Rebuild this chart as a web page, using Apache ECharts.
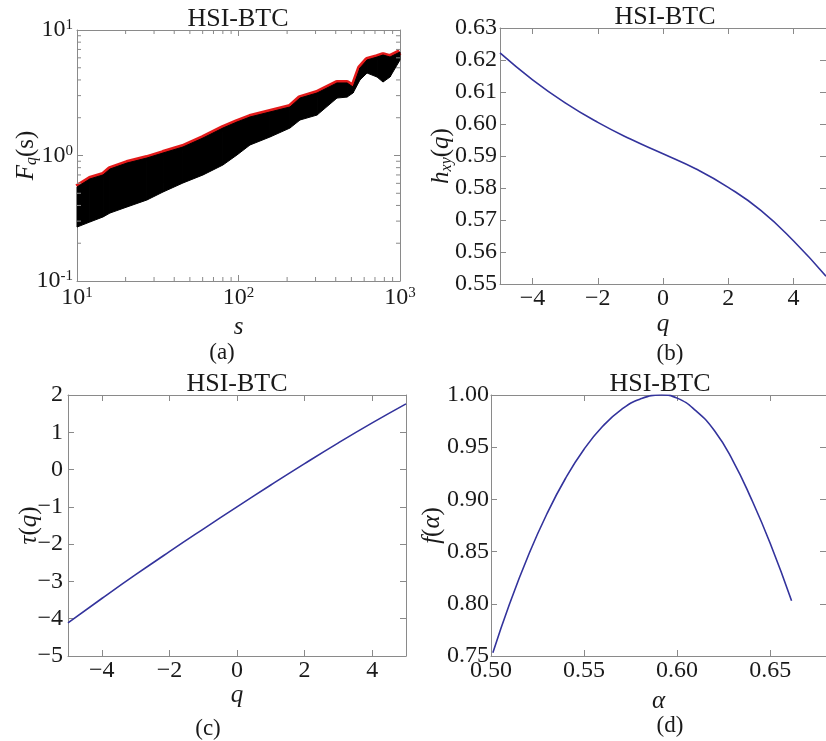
<!DOCTYPE html>
<html>
<head>
<meta charset="utf-8">
<style>
  html, body { margin: 0; padding: 0; background: #fff; }
  #main { width: 826px; height: 741px; }
</style>
<script src="https://cdn.jsdelivr.net/npm/echarts@6.0.0/dist/echarts.min.js"></script>
</head>
<body>
<div id="main"></div>
<script>
// (a) F_q(s) band: upper (red) edge and lower edge
var aScale = [10, 12.0, 14.5, 16.0, 20.4, 27.1, 34.1, 45.3, 60.3, 80.1, 97.9, 117.8, 156.6, 208.3, 240.3, 306.4, 407.4, 469.9, 512, 565, 625, 721, 785, 867, 1000];
var aUpper = [0.561, 0.650, 0.700, 0.780, 0.871, 0.955, 1.047, 1.169, 1.379, 1.655, 1.849, 2.027, 2.222, 2.435, 2.871, 3.148, 3.784, 3.784, 3.516, 4.98, 5.77, 6.09, 6.32, 6.09, 6.68];
var aLower = [0.269, 0.295, 0.324, 0.348, 0.389, 0.442, 0.512, 0.604, 0.700, 0.840, 1.01, 1.213, 1.404, 1.655, 1.918, 2.10, 2.87, 2.92, 3.15, 4.00, 4.54, 4.22, 3.85, 4.22, 5.77];
var aMinorX = [20, 30, 40, 50, 60, 70, 80, 90, 200, 300, 400, 500, 600, 700, 800, 900];
var aMinorY = [0.2, 0.3, 0.4, 0.5, 0.6, 0.7, 0.8, 0.9, 2, 3, 4, 5, 6, 7, 8, 9];

// (b) h_xy(q) and (c) tau(q)
var qValues = [-5, -4, -3, -2, -1, 0, 1, 2, 3, 4, 5];
var hxy = [0.6222, 0.6138, 0.6066, 0.6005, 0.5953, 0.5907, 0.5860, 0.5802, 0.5730, 0.5635, 0.5524];
var tau = [-4.11, -3.458, -2.82, -2.201, -1.596, -1.0, -0.414, 0.160, 0.717, 1.251, 1.762];
var qTicks = [-4, -2, 0, 2, 4];

// (d) f(alpha)
var alpha = [0.501, 0.51, 0.52, 0.53, 0.54, 0.55, 0.56, 0.57, 0.58, 0.5916, 0.60, 0.61, 0.62, 0.63, 0.64, 0.65, 0.6615];
var fAlpha = [0.753, 0.800, 0.846, 0.886, 0.920, 0.948, 0.970, 0.986, 0.996, 1.000, 0.997, 0.985, 0.966, 0.937, 0.900, 0.858, 0.803];
var alphaTicks = [0.50, 0.55, 0.60, 0.65];

var serif = '"Liberation Serif", "Times New Roman", serif';
var frame = '#8a8a8a';
var ink = '#1a1a1a';
var blue = '#33339c';

function minus(v) { return String(v).replace('-', '\u2212'); }

var rich = {
  m: { fontFamily: serif, fontSize: 25, color: ink, lineHeight: 26, verticalAlign: 'top' },
  i: { fontFamily: serif, fontSize: 25, fontStyle: 'italic', color: ink, lineHeight: 26, verticalAlign: 'top' },
  sub: { fontFamily: serif, fontSize: 16, fontStyle: 'italic', color: ink, lineHeight: 16, verticalAlign: 'bottom', padding: [14, 0, 0, 0] }
};
var supRich = {
  b: { fontFamily: serif, fontSize: 24, color: ink, lineHeight: 24, verticalAlign: 'bottom' },
  e: { fontFamily: serif, fontSize: 15, color: ink, lineHeight: 15, verticalAlign: 'top', padding: [0, 0, 14, 0] }
};

function baseAxis(extra) {
  var ax = {
    axisLine: { show: true, onZero: false, lineStyle: { color: frame, width: 1 } },
    axisTick: { show: true, inside: true, length: 6, lineStyle: { color: frame } },
    splitLine: { show: false },
    axisLabel: { fontFamily: serif, fontSize: 24, color: ink },
    nameTextStyle: { fontFamily: serif, fontSize: 25, color: ink, rich: rich },
    nameLocation: 'middle',
    nameMoveOverlap: false
  };
  for (var k in extra) ax[k] = extra[k];
  return ax;
}
function mirror(ax, pos) {
  var m = JSON.parse(JSON.stringify(ax));
  m.position = pos;
  m.axisLabel = { show: false };
  m.name = '';
  return m;
}

var grids = [
  { left: 77, top: 30, width: 323, height: 251 },
  { left: 500, top: 28, width: 330, height: 256 },
  { left: 68, top: 395, width: 338, height: 261 },
  { left: 491, top: 395, width: 338, height: 261 }
];

function powLabel(v) { return '{b|10}{e|' + Math.round(Math.log10(v)) + '}'; }

var xa = baseAxis({ type: 'log', logBase: 10, min: 10, max: 1000, gridIndex: 0, name: '{i|s}', nameGap: 34,
  axisLabel: { fontFamily: serif, fontSize: 24, color: ink, margin: 5, rich: supRich, formatter: powLabel } });
var ya = baseAxis({ type: 'log', logBase: 10, min: 0.1, max: 10, gridIndex: 0, name: '{i|F}{sub|q}{m|(s)}', nameGap: 37,
  axisLabel: { fontFamily: serif, fontSize: 24, color: ink, margin: 4, rich: supRich, formatter: powLabel } });

var xb = baseAxis({ type: 'value', min: -5, max: 5, gridIndex: 1, name: '{i|q}', nameGap: 28,
  axisTick: { show: true, inside: true, length: 6, lineStyle: { color: frame }, customValues: qTicks },
  axisLabel: { fontFamily: serif, fontSize: 24, color: ink, margin: 3, customValues: qTicks, formatter: minus } });
var yb = baseAxis({ type: 'value', min: 0.55, max: 0.63, interval: 0.01, gridIndex: 1, name: '{i|h}{sub|xy}{m|(}{i|q}{m|)}', nameGap: 45,
  axisLabel: { fontFamily: serif, fontSize: 24, color: ink, margin: 3, formatter: function (v) { return v.toFixed(2); } } });

var xc = baseAxis({ type: 'value', min: -5, max: 5, gridIndex: 2, name: '{i|q}', nameGap: 27,
  axisTick: { show: true, inside: true, length: 6, lineStyle: { color: frame }, customValues: qTicks },
  axisLabel: { fontFamily: serif, fontSize: 24, color: ink, margin: 3, customValues: qTicks, formatter: minus } });
var yc = baseAxis({ type: 'value', min: -5, max: 2, interval: 1, gridIndex: 2, name: '{i|\u03c4}{m|(}{i|q}{m|)}', nameGap: 25,
  axisLabel: { fontFamily: serif, fontSize: 24, color: ink, margin: 5, formatter: minus } });

var xd = baseAxis({ type: 'value', min: 0.5, max: 0.68, gridIndex: 3, name: '{i|\u03b1}', nameGap: 33,
  axisTick: { show: true, inside: true, length: 6, lineStyle: { color: frame }, customValues: alphaTicks },
  axisLabel: { fontFamily: serif, fontSize: 24, color: ink, margin: 3, customValues: alphaTicks, formatter: function (v) { return v.toFixed(2); } } });
var yd = baseAxis({ type: 'value', min: 0.75, max: 1.0, interval: 0.05, gridIndex: 3, name: '{i|f}{m|(}{i|\u03b1}{m|)}', nameGap: 45,
  axisLabel: { fontFamily: serif, fontSize: 24, color: ink, margin: 2, formatter: function (v) { return v.toFixed(2); } } });

var xAll = [], yAll = [];
[xa, xb, xc, xd].forEach(function (ax) { xAll.push(ax); xAll.push(mirror(ax, 'top')); });
[ya, yb, yc, yd].forEach(function (ax) { ax.nameRotate = 90; yAll.push(ax); yAll.push(mirror(ax, 'right')); });

function tickLine(x1, y1, x2, y2) {
  return { type: 'line', shape: { x1: x1, y1: y1, x2: x2, y2: y2 }, style: { stroke: frame, lineWidth: 1 } };
}

var series = [
  {
    type: 'line', xAxisIndex: 0, yAxisIndex: 0, z: 2,
    data: aScale.map(function (s, i) { return [s, aUpper[i]]; }),
    showSymbol: false, lineStyle: { color: '#e31a1a', width: 6 }
  },
  {
    type: 'custom', xAxisIndex: 0, yAxisIndex: 0, z: 3,
    data: aScale.map(function (s, i) { return [s, aUpper[i], aLower[i]]; }),
    renderItem: function (params, api) {
      var i = params.dataIndex;
      if (i >= aScale.length - 1) return null;
      var p1 = api.coord([aScale[i], aUpper[i]]);
      var p2 = api.coord([aScale[i + 1], aUpper[i + 1]]);
      var p3 = api.coord([aScale[i + 1], aLower[i + 1]]);
      var p4 = api.coord([aScale[i], aLower[i]]);
      return { type: 'polygon', shape: { points: [p1, p2, p3, p4] },
        style: { fill: '#000', stroke: '#000', lineWidth: 1 } };
    }
  },
  {
    type: 'custom', xAxisIndex: 0, yAxisIndex: 0, z: 4,
    data: aMinorX.map(function (v) { return [v, 1]; }),
    renderItem: function (params, api) {
      var b = api.coord([api.value(0), 0.1]);
      var t = api.coord([api.value(0), 10]);
      return { type: 'group', children: [tickLine(b[0], b[1], b[0], b[1] - 4), tickLine(t[0], t[1], t[0], t[1] + 4)] };
    }
  },
  {
    type: 'custom', xAxisIndex: 0, yAxisIndex: 0, z: 4,
    data: aMinorY.map(function (v) { return [100, v]; }),
    renderItem: function (params, api) {
      var l = api.coord([10, api.value(1)]);
      var r = api.coord([1000, api.value(1)]);
      return { type: 'group', children: [tickLine(l[0], l[1], l[0] + 4, l[1]), tickLine(r[0], r[1], r[0] - 4, r[1])] };
    }
  },
  {
    type: 'line', xAxisIndex: 2, yAxisIndex: 2, smooth: true, showSymbol: false,
    data: qValues.map(function (q, i) { return [q, hxy[i]]; }),
    lineStyle: { color: blue, width: 1.6 }
  },
  {
    type: 'line', xAxisIndex: 4, yAxisIndex: 4, smooth: true, showSymbol: false,
    data: qValues.map(function (q, i) { return [q, tau[i]]; }),
    lineStyle: { color: blue, width: 1.6 }
  },
  {
    type: 'line', xAxisIndex: 6, yAxisIndex: 6, smooth: true, showSymbol: false,
    data: alpha.map(function (a, i) { return [a, fAlpha[i]]; }),
    lineStyle: { color: blue, width: 1.6 }
  }
];

function label(text, x, y, size) {
  return { type: 'text', x: x, y: y, z: 10,
    style: { text: text, font: size + 'px ' + serif, fill: ink, textAlign: 'center', textVerticalAlign: 'middle' } };
}

var chart = echarts.init(document.getElementById('main'));
chart.setOption({
  animation: false,
  backgroundColor: '#fff',
  grid: grids,
  xAxis: xAll,
  yAxis: yAll,
  series: series,
  graphic: [
    label('HSI-BTC', 238, 19, 26),
    label('HSI-BTC', 665, 17, 26),
    label('HSI-BTC', 237, 384, 26),
    label('HSI-BTC', 660, 384, 26),
    label('(a)', 222, 353, 23),
    label('(b)', 670, 354, 23),
    label('(c)', 208, 729, 23),
    label('(d)', 670, 726, 23)
  ]
});
</script>
</body>
</html>
